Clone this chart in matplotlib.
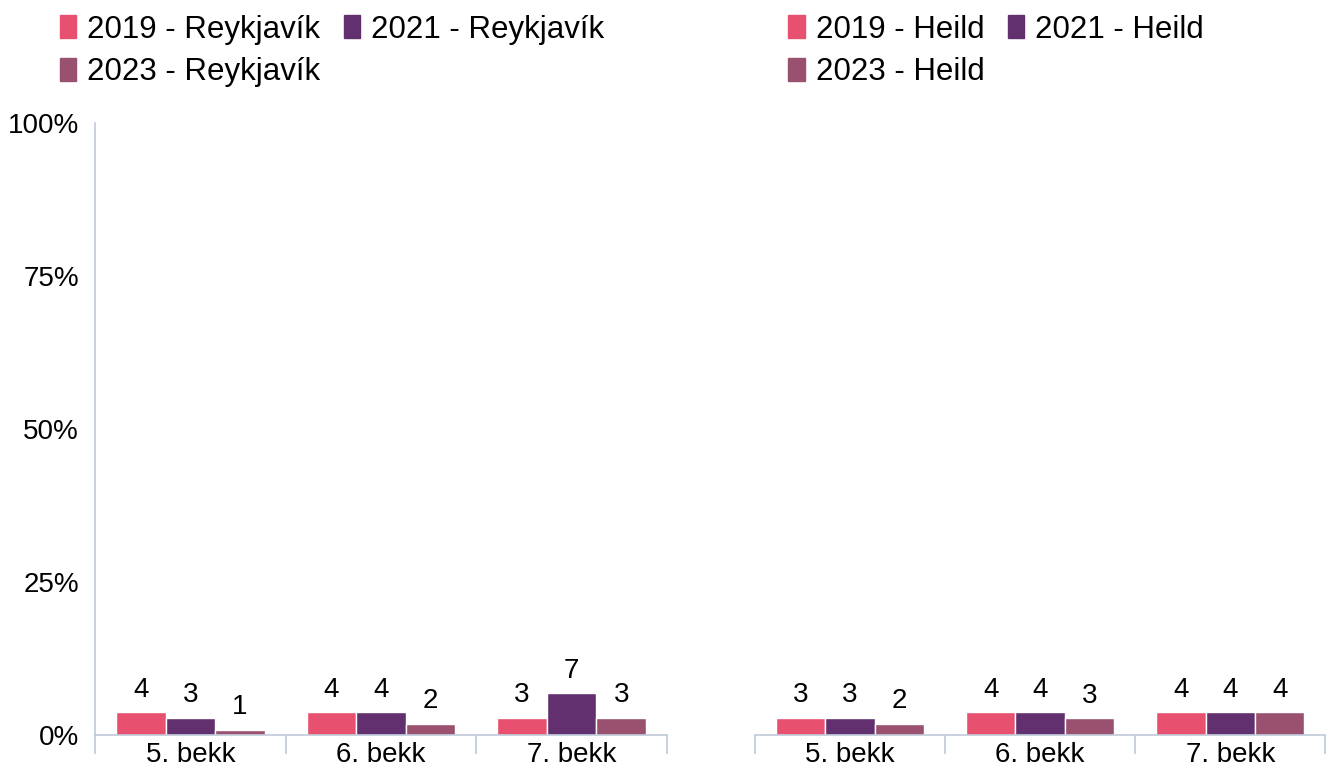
import numpy as np
import matplotlib
matplotlib.use("Agg")
import matplotlib.pyplot as plt
from matplotlib.patches import Patch

plt.rcParams['font.family'] = ['Liberation Sans', 'DejaVu Sans']

categories = ["5. bekk", "6. bekk", "7. bekk"]
years = ["2019", "2021", "2023"]
colors = ["#E8506F", "#62306E", "#99516F"]

# values in percent
reykjavik = [
    [3.7, 3.7, 2.8],   # 2019
    [2.8, 3.7, 6.8],   # 2021
    [0.8, 1.8, 2.8],   # 2023
]
heild = [
    [2.8, 3.7, 3.7],
    [2.8, 3.7, 3.7],
    [1.8, 2.7, 3.7],
]

AXIS_C = "#BFCAD8"
FS = 20
LEG_FS = 22.5

fig = plt.figure(figsize=(13.34, 7.64), dpi=100)
ax_l = fig.add_axes([0.0712, 0.038, 0.4288, 0.801])
ax_r = fig.add_axes([0.566, 0.038, 0.4275, 0.801])

x = np.arange(len(categories))
w = 0.26

for ax, data, region in [(ax_l, reykjavik, "Reykjavík"), (ax_r, heild, "Heild")]:
    for i, (vals, c) in enumerate(zip(data, colors)):
        bars = ax.bar(x + (i - 1) * w, vals, width=w, color=c,
                      edgecolor="white", linewidth=1)
        ax.bar_label(bars, labels=[f"{v:.0f}" for v in vals],
                     padding=7, fontsize=FS)
    ax.set_xlim(-0.5, 2.5)
    ax.set_ylim(0, 100)
    ax.set_xticks(x)
    ax.set_xticklabels(categories, fontsize=FS)
    ax.set_xticks([-0.5, 0.5, 1.5, 2.5], minor=True)
    ax.tick_params(axis="x", which="major", length=0, pad=5)
    ax.tick_params(axis="x", which="minor", length=14, color=AXIS_C, width=1.2)
    for s in ["top", "right"]:
        ax.spines[s].set_visible(False)
    ax.spines["bottom"].set_color(AXIS_C)
    ax.spines["bottom"].set_linewidth(1.2)
    ax.spines["left"].set_color(AXIS_C)
    ax.spines["left"].set_linewidth(1.2)

    # row-major legend order: 2019, 2021 / 2023
    order = [0, 2, 1]
    handles = [Patch(color=colors[k]) for k in order]
    labels = [f"{years[k]} - {region}" for k in order]
    anchor = (0.045, 0.981) if ax is ax_l else (0.591, 0.981)
    fig.legend(handles, labels, loc="upper left", bbox_to_anchor=anchor,
               ncol=2, frameon=False, fontsize=LEG_FS, handlelength=0.52,
               handleheight=0.75, handletextpad=0.35, columnspacing=0.75,
               labelspacing=0.4, borderpad=0, borderaxespad=0)

ax_l.set_yticks([0, 25, 50, 75, 100])
ax_l.set_yticklabels(["0%", "25%", "50%", "75%", "100%"], fontsize=FS)
ax_l.tick_params(axis="y", length=0, pad=11.5)
ax_r.spines["left"].set_visible(False)
ax_r.set_yticks([])

fig.savefig("out.png", dpi=100)
